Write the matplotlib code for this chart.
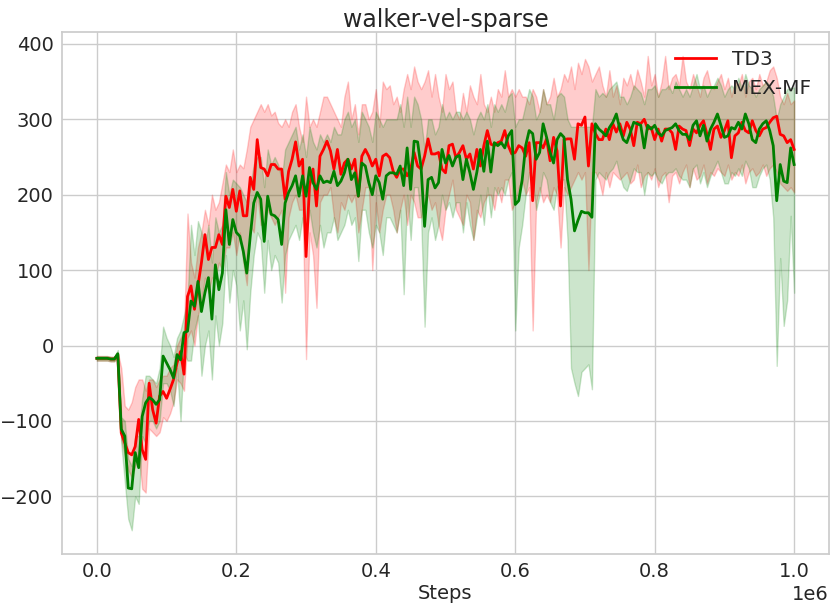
import numpy as np
import matplotlib
matplotlib.use("Agg")
import matplotlib.pyplot as plt

# ---------------- data ----------------
steps = np.arange(201) * 5000

td3_mean = [
    -17, -17, -17, -17, -18, -18, -12, -116, -129, -142,
    -145, -134, -98, -138, -151, -50, -85, -103, -67, -61,
    -70, -58, -45, -23, -8, -38, 65, 79, 48, 79,
    110, 147, 114, 130, 130, 147, 134, 198, 183, 207,
    178, 205, 172, 172, 223, 207, 273, 236, 234, 225,
    240, 240, 234, 234, 194, 231, 247, 270, 238, 247,
    118, 212, 234, 185, 251, 260, 271, 258, 234, 260,
    227, 242, 247, 234, 247, 198, 251, 260, 251, 238,
    247, 225, 251, 254, 249, 231, 223, 234, 234, 225,
    234, 256, 238, 234, 251, 274, 254, 254, 256, 234,
    229, 265, 267, 249, 256, 265, 247, 254, 234, 260,
    238, 265, 285, 267, 265, 269, 271, 285, 265, 254,
    256, 265, 262, 251, 269, 192, 269, 269, 262, 274,
    245, 276, 258, 185, 273, 274, 274, 247, 294, 292,
    303, 238, 294, 281, 273, 273, 287, 273, 294, 283,
    294, 278, 296, 287, 265, 296, 294, 300, 287, 289,
    273, 287, 271, 287, 287, 282, 260, 291, 287, 285,
    265, 287, 282, 292, 298, 280, 260, 287, 291, 276,
    285, 298, 249, 278, 282, 296, 285, 282, 298, 285,
    278, 287, 289, 296, 302, 304, 280, 278, 269, 273,
    260,
]

td3_high = [
    -14, -14, -14, -14, -15, -15, -9, -30, -80, -85,
    -75, -55, -45, -45, -60, -45, -45, -55, -45, -40,
    -40, -30, -25, 0, 10, 20, 175, 110, 90, 130,
    150, 180, 160, 200, 180, 190, 215, 240, 230, 260,
    230, 240, 235, 260, 290, 300, 310, 320, 310, 320,
    305, 310, 295, 290, 300, 290, 310, 320, 290, 270,
    330, 290, 300, 290, 310, 330, 330, 320, 310, 300,
    290, 330, 350, 300, 320, 280, 320, 320, 300, 310,
    340, 290, 350, 340, 345, 320, 330, 310, 340, 360,
    340, 370, 350, 340, 350, 365, 330, 360, 330, 310,
    360, 340, 350, 310, 300, 335, 310, 345, 330, 320,
    360, 320, 310, 330, 310, 340, 330, 365, 330, 340,
    330, 340, 330, 330, 320, 340, 330, 310, 340, 320,
    330, 355, 330, 340, 360, 350, 370, 340, 375, 360,
    380, 370, 350, 360, 370, 345, 330, 365, 330, 345,
    320, 355, 345, 360, 340, 366, 350, 330, 384, 345,
    360, 330, 350, 384, 340, 355, 360, 345, 384, 350,
    340, 360, 345, 330, 355, 365, 345, 340, 350, 360,
    340, 355, 330, 350, 345, 360, 330, 350, 355, 340,
    360, 345, 350, 365, 370, 355, 330, 320, 335, 320,
    325,
]

td3_low = [
    -20, -20, -20, -20, -21, -21, -15, -125, -145, -165,
    -175, -160, -140, -190, -195, -110, -115, -120, -115, -95,
    -100, -90, -75, -45, -50, -60, 10, 20, 0, 40,
    60, 90, 70, 90, 90, 110, 100, 130, 130, 150,
    120, 150, 110, 80, 160, 150, 200, 160, 160, 180,
    170, 160, 170, 180, 70, 170, 190, 200, 180, 180,
    -18, 150, 120, 50, 190, 200, 200, 210, 170, 150,
    190, 180, 200, 190, 200, 150, 180, 210, 210, 100,
    190, 150, 180, 200, 200, 180, 150, 180, 200, 160,
    200, 190, 170, 170, 190, 200, 180, 190, 160, 140,
    180, 200, 220, 180, 170, 160, 200, 190, 140, 180,
    170, 190, 200, 200, 180, 210, 190, 220, 220, 180,
    190, 210, 220, 200, 210, 20, 190, 210, 190, 200,
    190, 210, 200, 130, 210, 200, 210, 220, 230, 220,
    230, 100, 230, 230, 220, 200, 230, 210, 230, 225,
    220, 225, 230, 215, 220, 240, 210, 225, 230, 220,
    235, 210, 225, 230, 190, 225, 230, 215, 230, 240,
    210, 235, 220, 225, 240, 215, 230, 225, 235, 230,
    225, 240, 220, 230, 225, 240, 215, 230, 235, 225,
    230, 240, 225, 235, 240, 230, 215, 210, 205, 210,
    203,
]

mex_mean = [
    -17, -17, -17, -17, -18, -18, -11, -111, -120, -189,
    -190, -142, -162, -94, -76, -69, -72, -78, -72, -14,
    -23, -32, -43, -12, -19, 17, 19, 59, 52, 85,
    45, 70, 90, 35, 107, 74, 96, 180, 134, 167,
    150, 145, 125, 96, 145, 189, 203, 194, 138, 198,
    174, 172, 167, 134, 189, 203, 212, 225, 198, 225,
    198, 236, 216, 207, 225, 216, 218, 216, 231, 212,
    218, 229, 247, 220, 229, 198, 242, 238, 216, 200,
    225, 216, 194, 225, 229, 229, 227, 238, 212, 262,
    207, 271, 270, 236, 158, 220, 223, 209, 216, 260,
    242, 252, 238, 250, 252, 220, 247, 229, 207, 230,
    260, 231, 271, 230, 269, 265, 269, 262, 278, 285,
    187, 192, 220, 265, 285, 281, 247, 256, 294, 276,
    256, 242, 273, 281, 276, 220, 194, 152, 166, 178,
    176, 176, 170, 294, 287, 283, 278, 289, 296, 307,
    287, 273, 269, 282, 296, 294, 292, 262, 292, 287,
    292, 282, 278, 285, 287, 289, 294, 285, 280, 280,
    273, 292, 298, 278, 292, 271, 287, 296, 307, 292,
    276, 278, 289, 287, 296, 287, 307, 294, 273, 269,
    287, 294, 298, 285, 265, 192, 240, 218, 216, 262,
    240,
]

mex_high = [
    -14, -14, -14, -14, -15, -15, -6, -95, -100, -150,
    -160, -120, -120, -70, -40, -40, -45, -50, -30, 25,
    10, 0, -15, 10, 20, 40, 60, 160, 120, 165,
    150, 130, 160, 110, 170, 150, 160, 230, 200, 220,
    215, 210, 200, 190, 210, 240, 250, 250, 210, 260,
    240, 250, 240, 220, 260, 270, 280, 290, 260, 280,
    250, 290, 270, 260, 280, 270, 280, 270, 290, 280,
    280, 300, 310, 290, 300, 270, 310, 300, 290, 270,
    310, 300, 290, 300, 300, 300, 300, 320, 290, 330,
    290, 330, 320, 300, 260, 300, 300, 280, 290, 320,
    300, 310, 300, 310, 310, 300, 310, 300, 280, 300,
    310, 300, 320, 290, 320, 310, 320, 310, 330, 335,
    290, 300, 300, 320, 340, 330, 300, 310, 340, 320,
    320, 300, 330, 335, 330, 300, 290, 290, 290, 290,
    290, 290, 290, 340, 330, 335, 330, 340, 345, 350,
    330, 330, 320, 330, 345, 340, 335, 320, 340, 340,
    345, 330, 340, 340, 345, 335, 350, 340, 330, 340,
    330, 345, 360, 340, 345, 330, 340, 345, 355, 345,
    330, 340, 345, 340, 355, 340, 360, 345, 340, 330,
    340, 345, 350, 345, 330, 300, 320, 330, 340, 342,
    342,
]

mex_low = [
    -20, -20, -20, -20, -21, -21, -15, -130, -180, -230,
    -245, -200, -210, -120, -130, -100, -100, -110, -100, -50,
    -50, -60, -80, -30, -100, -10, -20, -20, 20, 40,
    -40, 0, 20, -45, 40, 0, 30, 120, 57, 100,
    80, 20, 60, -5, 70, 120, 150, 140, 70, 140,
    100, 120, 110, 57, 120, 140, 150, 160, 140, 170,
    140, 180, 150, 130, 160, 130, 150, 150, 170, 140,
    150, 160, 180, 160, 170, 112, 180, 180, 150, 130,
    160, 150, 120, 170, 170, 160, 150, 180, 68, 200,
    140, 210, 210, 170, 25, 150, 170, 140, 160, 200,
    180, 190, 170, 190, 190, 150, 190, 160, 140, 170,
    200, 160, 210, 170, 210, 200, 210, 200, 220, 230,
    20, 130, 160, 200, 230, 220, 180, 200, 230, 220,
    190, 180, 210, 220, 220, 140, -30, -50, -67, -35,
    -30, -25, -58, 220, 230, 225, 220, 230, 235, 245,
    225, 210, 205, 220, 235, 230, 230, 200, 230, 225,
    230, 220, 215, 225, 230, 230, 235, 225, 220, 220,
    210, 235, 240, 215, 230, 210, 225, 235, 245, 230,
    215, 215, 230, 225, 235, 225, 245, 235, 210, 210,
    225, 235, 240, 220, 170, -27, 116, 26, 60, 172,
    70,
]

series = [
    ("TD3", td3_mean, td3_low, td3_high, "red"),
    ("MEX-MF", mex_mean, mex_low, mex_high, "green"),
]

# ---------------- style ----------------
plt.rcParams.update({
    "font.family": ["DejaVu Sans"],
    "font.size": 14,
    "axes.edgecolor": "#cccccc",
    "axes.linewidth": 1.25,
    "grid.color": "#cccccc",
    "grid.linewidth": 1.0,
    "text.color": "#262626",
    "axes.labelcolor": "#262626",
    "xtick.color": "#262626",
    "ytick.color": "#262626",
    "xtick.major.size": 0,
    "ytick.major.size": 0,
    "xtick.major.pad": 6,
    "ytick.major.pad": 6,
})

fig = plt.figure(figsize=(8.31, 6.11), dpi=100)
ax = fig.add_axes([0.0746, 0.0933, 0.923, 0.854])
ax.set_axisbelow(True)
ax.grid(True)

for name, m, lo, hi, col in series:
    ax.fill_between(steps, lo, hi, color=col, alpha=0.2)
for name, m, lo, hi, col in series:
    ax.plot(steps, m, color=col, lw=2, label=name)

ax.set_title("walker-vel-sparse", fontsize=17, pad=4)
ax.set_xlabel("Steps", fontsize=14, labelpad=2)
ax.set_xticks([0, 200000, 400000, 600000, 800000, 1000000])
ax.set_yticks([-200, -100, 0, 100, 200, 300, 400])
ax.tick_params(labelsize=14)
ax.xaxis.get_offset_text().set_fontsize(14)

leg = ax.legend(loc="upper right", frameon=False, fontsize=14.5,
                labelspacing=0.5)

fig.savefig("out.png", dpi=100)
